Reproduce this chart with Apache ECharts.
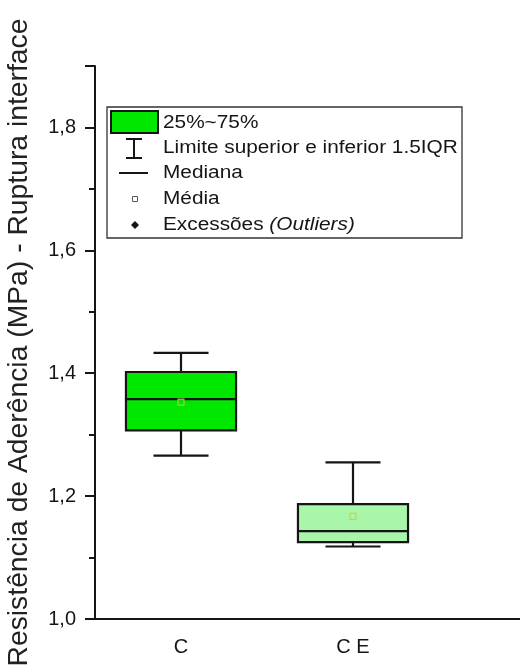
<!DOCTYPE html>
<html>
<head>
<meta charset="utf-8">
<script src="https://cdn.jsdelivr.net/npm/echarts@6/dist/echarts.min.js"></script>
<style>
  html, body { margin: 0; padding: 0; background: #fff; }
  #chart { width: 520px; height: 668px; }
</style>
</head>
<body>
<div id="chart"></div>
<script>
// Bond strength (MPa), interface rupture, per group
const categories = ['C', 'C E'];
const lowWhisker = [1.266, 1.118];
const q1 = [1.307, 1.125];
const median = [1.358, 1.143];
const q3 = [1.402, 1.187];
const highWhisker = [1.433, 1.255];
const mean = [1.353, 1.167];
const boxFill = ['#00e800', '#a9f5a9'];
const meanStroke = ['#1e6e1e', '#2f7f2f'];

const yTitle = 'Resistência de Aderência (MPa) - Ruptura interface';
const legendLabels = ['25%~75%', 'Limite superior e inferior 1.5IQR', 'Mediana', 'Média'];
const legendOutlierText = 'Excessões ';
const legendOutlierItalic = '(Outliers)';

const FONT = "'Liberation Sans', Arial, sans-serif";
const INK = '#151515';

const boxData = categories.map((c, i) => [i, lowWhisker[i], q1[i], median[i], q3[i], highWhisker[i]]);
const meanData = categories.map((c, i) => [i, mean[i]]);

function renderBox(params, api) {
  const idx = api.value(0);
  const pLow = api.coord([idx, api.value(1)]);
  const pQ1 = api.coord([idx, api.value(2)]);
  const pMed = api.coord([idx, api.value(3)]);
  const pQ3 = api.coord([idx, api.value(4)]);
  const pHigh = api.coord([idx, api.value(5)]);
  const band = api.size([1, 0])[0];
  const w = band * 0.64;
  const cap = w * 0.5;
  const cx = pMed[0];
  const line = { stroke: INK, lineWidth: 2.2 };
  return {
    type: 'group',
    children: [
      { type: 'line', shape: { x1: cx, y1: pQ3[1], x2: cx, y2: pHigh[1] }, style: line },
      { type: 'line', shape: { x1: cx, y1: pQ1[1], x2: cx, y2: pLow[1] }, style: line },
      { type: 'line', shape: { x1: cx - cap / 2, y1: pHigh[1], x2: cx + cap / 2, y2: pHigh[1] }, style: line },
      { type: 'line', shape: { x1: cx - cap / 2, y1: pLow[1], x2: cx + cap / 2, y2: pLow[1] }, style: line },
      { type: 'rect', shape: { x: cx - w / 2, y: pQ3[1], width: w, height: pQ1[1] - pQ3[1] },
        style: { fill: boxFill[params.dataIndex], stroke: INK, lineWidth: 2.2 } },
      { type: 'line', shape: { x1: cx - w / 2, y1: pMed[1], x2: cx + w / 2, y2: pMed[1] }, style: line }
    ]
  };
}

// legend drawn as a framed block of shapes and text
const LX = 107, LY = 107;
const rowY = [123, 148, 173, 199, 225];
const legendText = (txt, y) => ({
  type: 'text', x: 163, y: y, scaleY: 0.85, z: 20,
  style: { text: txt, font: '20.8px ' + FONT, fill: INK, verticalAlign: 'middle', align: 'left' }
});
const legendGraphics = [
  { type: 'rect', z: 10, shape: { x: LX, y: LY, width: 355, height: 131 },
    style: { fill: '#fff', stroke: '#333', lineWidth: 1.3 } },
  { type: 'rect', z: 20, shape: { x: 111, y: 111, width: 47, height: 22 },
    style: { fill: boxFill[0], stroke: INK, lineWidth: 2 } },
  legendText(legendLabels[0], rowY[0]),
  { type: 'line', z: 20, shape: { x1: 134, y1: 139, x2: 134, y2: 158 }, style: { stroke: INK, lineWidth: 2 } },
  { type: 'line', z: 20, shape: { x1: 126, y1: 139, x2: 142, y2: 139 }, style: { stroke: INK, lineWidth: 2 } },
  { type: 'line', z: 20, shape: { x1: 126, y1: 158, x2: 142, y2: 158 }, style: { stroke: INK, lineWidth: 2 } },
  legendText(legendLabels[1], rowY[1]),
  { type: 'line', z: 20, shape: { x1: 119, y1: rowY[2], x2: 148, y2: rowY[2] }, style: { stroke: INK, lineWidth: 2 } },
  legendText(legendLabels[2], rowY[2]),
  { type: 'rect', z: 20, shape: { x: 132.5, y: rowY[3] - 2.5, width: 5, height: 5 },
    style: { fill: '#fff', stroke: '#555', lineWidth: 1 } },
  legendText(legendLabels[3], rowY[3]),
  { type: 'polygon', z: 20, shape: { points: [[135, rowY[4] - 4], [139, rowY[4]], [135, rowY[4] + 4], [131, rowY[4]]] },
    style: { fill: INK } },
  {
    type: 'text', x: 163, y: rowY[4], scaleY: 0.85, z: 20,
    style: {
      text: '{n|' + legendOutlierText + '}{i|' + legendOutlierItalic + '}',
      verticalAlign: 'middle', align: 'left',
      rich: {
        n: { font: '20.8px ' + FONT, fill: INK },
        i: { font: 'italic 20.8px ' + FONT, fill: INK }
      }
    }
  }
];

const chart = echarts.init(document.getElementById('chart'), null, { renderer: 'canvas' });
chart.setOption({
  backgroundColor: '#fff',
  animation: false,
  grid: { left: 95, top: 66, width: 516, height: 553, containLabel: false, outerBoundsMode: 'none' },
  xAxis: {
    type: 'category',
    data: categories.concat(['']),
    boundaryGap: true,
    axisLine: { lineStyle: { color: INK, width: 2 } },
    axisTick: { alignWithLabel: true, length: 10, lineStyle: { color: INK, width: 2 } },
    axisLabel: { color: INK, fontSize: 20, fontFamily: FONT, margin: 18 },
    splitLine: { show: false }
  },
  yAxis: {
    type: 'value',
    min: 1.0,
    max: 1.9,
    interval: 0.2,
    name: yTitle,
    nameLocation: 'middle',
    nameRotate: 90,
    nameGap: 62,
    nameTextStyle: { color: '#222', fontSize: 28.3, fontFamily: FONT },
    axisLine: { show: true, lineStyle: { color: INK, width: 2 } },
    axisTick: { show: true, length: 10, lineStyle: { color: INK, width: 2 } },
    minorTick: { show: true, splitNumber: 2, length: 6, lineStyle: { color: INK, width: 2 } },
    axisLabel: {
      color: INK, fontSize: 20, fontFamily: FONT, margin: 19, showMaxLabel: false,
      formatter: v => v.toFixed(1).replace('.', ',')
    },
    splitLine: { show: false },
    minorSplitLine: { show: false }
  },
  series: [
    {
      type: 'custom',
      name: 'box',
      renderItem: renderBox,
      encode: { x: 0, y: [1, 2, 3, 4, 5] },
      data: boxData,
      z: 2
    },
    {
      type: 'scatter',
      name: 'mean',
      data: meanData,
      symbol: 'rect',
      symbolSize: 6,
      itemStyle: {
        color: p => boxFill[p.dataIndex],
        borderColor: p => meanStroke[p.dataIndex],
        borderWidth: 1.2
      },
      z: 3
    }
  ],
  graphic: legendGraphics
});
</script>
</body>
</html>
